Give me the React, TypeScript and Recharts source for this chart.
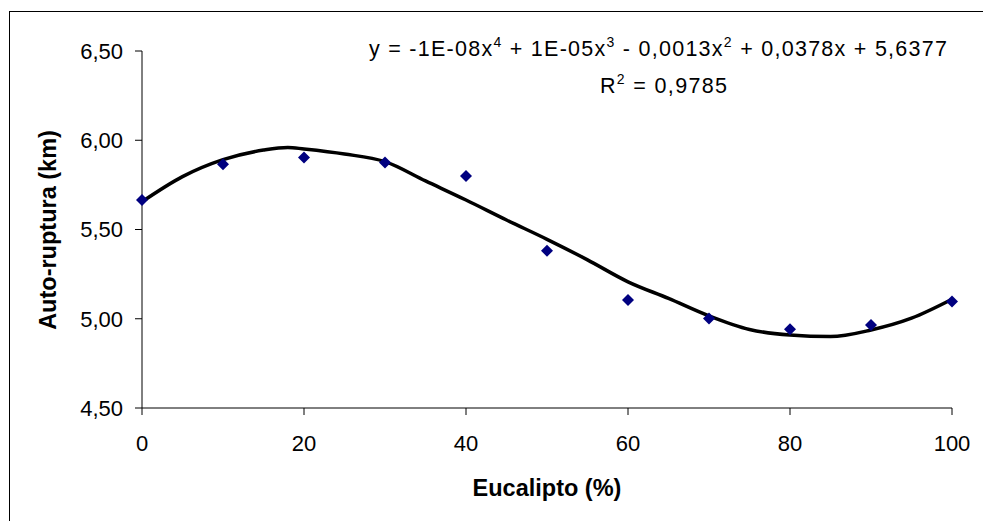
import { ComposedChart, Line, Scatter, XAxis, YAxis } from 'recharts';

// medições (Eucalipto %, auto-ruptura km)
const eucalipto = [0, 10, 20, 30, 40, 50, 60, 70, 80, 90, 100];
const autoRuptura = [5.665, 5.865, 5.904, 5.876, 5.8, 5.381, 5.105, 5.002, 4.941, 4.965, 5.096];

// linha de tendência polinomial
const trendX = [0, 5, 10, 15, 18, 20, 25, 30, 35, 40, 45, 50, 55, 60, 65, 70, 75, 80, 85, 90, 95, 100];
const trendY = [5.655, 5.796, 5.891, 5.945, 5.96, 5.951, 5.923, 5.88, 5.772, 5.665, 5.553, 5.445, 5.33, 5.207, 5.114, 5.016, 4.94, 4.909, 4.9, 4.937, 5.003, 5.109];

const xTicks = [0, 20, 40, 60, 80, 100];
const yTicks = [4.5, 5.0, 5.5, 6.0, 6.5];

const points = eucalipto.map((x, i) => ({ x, y: autoRuptura[i] }));
const trend = trendX.map((x, i) => ({ x, y: trendY[i] }));

const FONT = '"Liberation Sans", Arial, sans-serif';

const fmt = (v: number) => v.toFixed(2).replace('.', ',');

const Diamond = (props: any) => {
    const { cx, cy } = props;
    if (cx == null || cy == null) return null;
    const r = 6;
    return <polygon points={`${cx},${cy - r} ${cx + r},${cy} ${cx},${cy + r} ${cx - r},${cy}`} fill="#000080" />;
};

export default function App() {
    return (
        <div style={{ position: 'absolute', left: 0, top: 0, width: 983, height: 521, background: '#fff', overflow: 'hidden' }}>
            <ComposedChart width={983} height={521} margin={{ top: 51, right: 31, bottom: 0, left: 0 }}>
                <XAxis
                    type="number"
                    dataKey="x"
                    domain={[0, 100]}
                    ticks={xTicks}
                    height={113}
                    stroke="#000"
                    tickSize={7}
                    tickMargin={20}
                    tick={{ fill: '#000', fontSize: 22, fontFamily: FONT }}
                />
                <YAxis
                    type="number"
                    domain={[4.5, 6.5]}
                    ticks={yTicks}
                    width={142}
                    stroke="#000"
                    tickSize={7}
                    tickMargin={12}
                    tickFormatter={fmt}
                    allowDataOverflow
                    tick={{ fill: '#000', fontSize: 22, fontFamily: FONT }}
                />
                <Line data={trend} dataKey="y" type="monotone" stroke="#000" strokeWidth={3.5} dot={false} isAnimationActive={false} />
                <Scatter data={points} dataKey="y" shape={<Diamond />} isAnimationActive={false} />
            </ComposedChart>

            <svg width={983} height={521} style={{ position: 'absolute', left: 0, top: 0, pointerEvents: 'none' }} fontFamily={FONT}>
                {/* moldura da área do gráfico */}
                <rect x={9.5} y={11.5} width={1000} height={600} fill="none" stroke="#000" strokeWidth={1} />

                {/* títulos dos eixos */}
                <text x={547} y={496} textAnchor="middle" fontSize={23.5} fontWeight="bold" fill="#000">Eucalipto (%)</text>
                <text x={0} y={0} transform="translate(56,230) rotate(-90)" textAnchor="middle" fontSize={23.5} fontWeight="bold" fill="#000">
                    Auto-ruptura (km)
                </text>

                {/* equação da tendência */}
                <text x={369} y={56} fontSize={21.5} fill="#000" textLength={578} lengthAdjust="spacing">
                    y = -1E-08x<tspan dy={-9} fontSize={14}>4</tspan>
                    <tspan dy={9}> + 1E-05x</tspan>
                    <tspan dy={-9} fontSize={14}>3</tspan>
                    <tspan dy={9}> - 0,0013x</tspan>
                    <tspan dy={-9} fontSize={14}>2</tspan>
                    <tspan dy={9}> + 0,0378x + 5,6377</tspan>
                </text>
                <text x={600} y={93} fontSize={21.5} fill="#000" textLength={127} lengthAdjust="spacing">
                    R<tspan dy={-9} fontSize={14}>2</tspan>
                    <tspan dy={9}> = 0,9785</tspan>
                </text>
            </svg>
        </div>
    );
}
